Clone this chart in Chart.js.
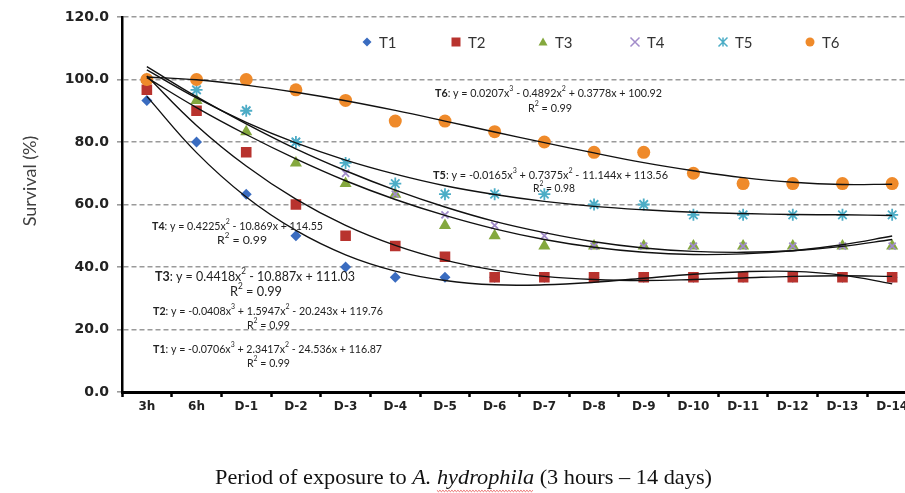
<!DOCTYPE html>
<html>
<head>
<meta charset="utf-8">
<script src="https://cdn.jsdelivr.net/npm/chart.js@4.4.0/dist/chart.umd.min.js"></script>
<style>
  html, body { margin: 0; padding: 0; background: #fff; overflow: hidden; }
  #chart { display: block; }
</style>
</head>
<body>
<canvas id="chart" width="930" height="493"></canvas>
<script>
// -> Daten
const categories = ['3h', '6h', 'D-1', 'D-2', 'D-3', 'D-4', 'D-5', 'D-6', 'D-7', 'D-8', 'D-9', 'D-10', 'D-11', 'D-12', 'D-13', 'D-14'];
const seriesNames = ['T1', 'T2', 'T3', 'T4', 'T5', 'T6'];

const t1 = [93.3, 80, 63.3, 50, 40, 36.7, 36.7, 36.7, 36.7, 36.7, 36.7, 36.7, 36.7, 36.7, 36.7, 36.7];
const t2 = [96.7, 90, 76.7, 60, 50, 46.7, 43.3, 36.7, 36.7, 36.7, 36.7, 36.7, 36.7, 36.7, 36.7, 36.7];
const t3 = [100, 93.3, 83.3, 73.3, 66.7, 63.3, 53.3, 50, 46.7, 46.7, 46.7, 46.7, 46.7, 46.7, 46.7, 46.7];
const t4 = [100, 96.7, 90, 80, 70, 63.3, 56.7, 53.3, 50, 46.7, 46.7, 46.7, 46.7, 46.7, 46.7, 46.7];
const t5 = [100, 96.7, 90, 80, 73.3, 66.7, 63.3, 63.3, 63.3, 60, 60, 56.7, 56.7, 56.7, 56.7, 56.7];
const t6 = [100, 100, 100, 96.7, 93.3, 86.7, 86.7, 83.3, 80, 76.7, 76.7, 70, 66.7, 66.7, 66.7, 66.7];

// Trendlinien (Werte der angegebenen Gleichungen pro Kategorie)
const fit1 = [94.6, 76.6, 62.4, 51.7, 43.9, 38.7, 35.7, 34.3, 34.3, 35.1, 36.4, 37.7, 38.5, 38.6, 37.4, 34.6];
const fit2 = [101.1, 85.3, 72.3, 61.7, 53.3, 46.9, 42.2, 39.0, 37.0, 36.0, 35.7, 36.0, 36.5, 37.0, 37.2, 37.0];
const fit3 = [100.6, 91.0, 82.4, 74.6, 67.6, 61.6, 56.5, 52.2, 48.8, 46.3, 44.7, 44.0, 44.2, 45.2, 47.1, 49.9];
const fit4 = [104.1, 94.5, 85.8, 77.8, 70.8, 64.6, 59.2, 54.6, 51.0, 48.1, 46.1, 45.0, 44.7, 45.2, 46.6, 48.8];
const fit5 = [103.1, 94.1, 86.3, 79.7, 74.2, 69.7, 66.0, 63.2, 61.0, 59.4, 58.3, 57.5, 57.1, 56.8, 56.7, 56.5];
const fit6 = [100.8, 99.9, 98.2, 95.9, 93.2, 90.1, 86.7, 83.2, 79.8, 76.5, 73.4, 70.8, 68.6, 67.1, 66.4, 66.5];

const yTicks = [0, 20, 40, 60, 80, 100, 120];

// -> Stil
const colors = ['#3a6cc0', '#b8332e', '#84a83e', '#a28cca', '#4cadc6', '#ef8a2a'];
const styles = ['rectRot', 'rect', 'triangle', 'crossRot', 'star', 'circle'];
const radii = [5.5, 7.5, 7, 5, 6, 6.5];
const allData = [t1, t2, t3, t4, t5, t6];
const allFits = [fit1, fit2, fit3, fit4, fit5, fit6];

const datasets = [];
allFits.forEach((f, i) => {
  datasets.push({
    label: 'fit ' + seriesNames[i],
    data: f,
    borderColor: '#111',
    borderWidth: 1.4,
    pointRadius: 0,
    tension: 0.4,
    fill: false,
    order: 0
  });
});
allData.forEach((d, i) => {
  const lineStyle = styles[i] === 'crossRot' || styles[i] === 'star';
  datasets.push({
    label: seriesNames[i],
    data: d,
    showLine: false,
    pointStyle: styles[i],
    pointRadius: radii[i],
    pointBackgroundColor: colors[i],
    pointBorderColor: colors[i],
    pointBorderWidth: lineStyle ? 1.8 : 0,
    order: 6 - i
  });
});

// -> Gleichungen
const equations = [
  { parts: [['T6', 'b'], [': y = 0.0207x'], ['3', 's'], [' - 0.4892x'], ['2', 's'], [' + 0.3778x + 100.92']], x: 435, y: 93, w: 227, size: 11 },
  { parts: [['R'], ['2', 's'], [' = 0.99']], x: 528, y: 108, w: 44, size: 11 },
  { parts: [['T5', 'b'], [': y = -0.0165x'], ['3', 's'], [' + 0.7375x'], ['2', 's'], [' - 11.144x + 113.56']], x: 433, y: 175, w: 235, size: 11 },
  { parts: [['R'], ['2', 's'], [' = 0.98']], x: 533, y: 188, w: 42, size: 11 },
  { parts: [['T4', 'b'], [': y = 0.4225x'], ['2', 's'], [' - 10.869x + 114.55']], x: 152, y: 226, w: 171, size: 11 },
  { parts: [['R'], ['2', 's'], [' = 0.99']], x: 217, y: 240, w: 50, size: 11 },
  { parts: [['T3', 'b'], [': y = 0.4418x'], ['2', 's'], [' - 10.887x + 111.03']], x: 155, y: 276, w: 200, size: 14 },
  { parts: [['R'], ['2', 's'], [' = 0.99']], x: 230, y: 291, w: 52, size: 14 },
  { parts: [['T2', 'b'], [': y = -0.0408x'], ['3', 's'], [' + 1.5947x'], ['2', 's'], [' - 20.243x + 119.76']], x: 153, y: 311, w: 230, size: 11 },
  { parts: [['R'], ['2', 's'], [' = 0.99']], x: 247, y: 325, w: 43, size: 11 },
  { parts: [['T1', 'b'], [': y = -0.0706x'], ['3', 's'], [' + 2.3417x'], ['2', 's'], [' - 24.536x + 116.87']], x: 153, y: 349, w: 229, size: 11 },
  { parts: [['R'], ['2', 's'], [' = 0.99']], x: 247, y: 363, w: 43, size: 11 }
];

const legendX = [367, 456, 543, 635, 723, 810];

function fontFor(style, size, family) {
  let f = '';
  if (style === 'b') f += 'bold ';
  if (style === 'i') f += 'italic ';
  if (style === 's') size = size * 0.65;
  return f + size + 'px ' + family;
}

// Text mit Teilen zeichnen, horizontal auf Zielbreite skaliert
function drawRich(ctx, parts, x, y, size, family, targetW, color) {
  let total = 0;
  const widths = parts.map(p => {
    ctx.font = fontFor(p[1], size, family);
    const w = ctx.measureText(p[0]).width;
    total += w;
    return w;
  });
  const sx = targetW ? targetW / total : 1;
  const pos = [];
  ctx.save();
  ctx.translate(x, y);
  ctx.scale(sx, 1);
  ctx.fillStyle = color;
  ctx.textBaseline = 'middle';
  ctx.textAlign = 'left';
  let cx = 0;
  parts.forEach((p, i) => {
    ctx.font = fontFor(p[1], size, family);
    const dy = p[1] === 's' ? -size * 0.35 : 0;
    ctx.fillText(p[0], cx, dy);
    pos.push([x + cx * sx, x + (cx + widths[i]) * sx]);
    cx += widths[i];
  });
  ctx.restore();
  return pos;
}

function drawMarker(ctx, style, x, y, r, color) {
  ctx.save();
  ctx.fillStyle = color;
  ctx.strokeStyle = color;
  ctx.lineWidth = 1.5;
  ctx.beginPath();
  if (style === 'rectRot') {
    ctx.moveTo(x, y - r); ctx.lineTo(x + r, y); ctx.lineTo(x, y + r); ctx.lineTo(x - r, y); ctx.closePath(); ctx.fill();
  } else if (style === 'rect') {
    ctx.rect(x - r, y - r, 2 * r, 2 * r); ctx.fill();
  } else if (style === 'triangle') {
    ctx.moveTo(x, y - r); ctx.lineTo(x + r, y + r * 0.8); ctx.lineTo(x - r, y + r * 0.8); ctx.closePath(); ctx.fill();
  } else if (style === 'crossRot') {
    ctx.moveTo(x - r, y - r); ctx.lineTo(x + r, y + r); ctx.moveTo(x + r, y - r); ctx.lineTo(x - r, y + r); ctx.stroke();
  } else if (style === 'star') {
    ctx.moveTo(x - r, y - r); ctx.lineTo(x + r, y + r); ctx.moveTo(x + r, y - r); ctx.lineTo(x - r, y + r);
    ctx.moveTo(x, y - r); ctx.lineTo(x, y + r); ctx.stroke();
  } else {
    ctx.arc(x, y, r, 0, Math.PI * 2); ctx.fill();
  }
  ctx.restore();
}

// -> Plugin für Legende, Titel und Gleichungen
const extras = {
  id: 'extras',
  afterDraw(chart) {
    const ctx = chart.ctx;

    // Legende
    seriesNames.forEach((name, i) => {
      const mx = legendX[i];
      drawMarker(ctx, styles[i], mx, 42, 4.5, colors[i]);
      ctx.save();
      ctx.font = '15px Lato';
      ctx.fillStyle = '#333';
      ctx.textBaseline = 'middle';
      ctx.fillText(name, mx + 12, 43);
      ctx.restore();
    });

    // Gleichungen
    equations.forEach(e => drawRich(ctx, e.parts, e.x, e.y, e.size, 'Lato', e.w, '#222'));

    // Y-Titel
    ctx.save();
    ctx.translate(30, 181);
    ctx.rotate(-Math.PI / 2);
    ctx.font = '18px Lato';
    ctx.fillStyle = '#404040';
    ctx.textAlign = 'center';
    ctx.textBaseline = 'middle';
    ctx.fillText('Survival (%)', 0, 0);
    ctx.restore();

    // X-Titel
    const pos = drawRich(ctx, [
      ['Period of exposure to '], ['A. ', 'i'], ['hydrophila', 'i'], [' (3 hours \u2013 14 days)']
    ], 215, 478, 21, '"Liberation Serif"', 497, '#111');

    // rote Wellenlinie unter "hydrophila"
    const x0 = pos[2][0], x1 = pos[2][1];
    ctx.save();
    ctx.strokeStyle = '#e23a3a';
    ctx.lineWidth = 0.8;
    ctx.beginPath();
    for (let x = x0, k = 0; x <= x1; x += 1.5, k++) {
      const y = 491 + (k % 2 === 0 ? -0.7 : 0.7);
      if (k === 0) ctx.moveTo(x, y); else ctx.lineTo(x, y);
    }
    ctx.stroke();
    ctx.restore();
  }
};

const canvas = document.querySelector('#chart');
const chart = new Chart(canvas, {
  type: 'line',
  data: { labels: categories, datasets: datasets },
  options: {
    responsive: false,
    animation: false,
    layout: { padding: { top: 17, right: 13, left: 0, bottom: 0 } },
    plugins: {
      legend: { display: false },
      tooltip: { enabled: false }
    },
    scales: {
      x: {
        offset: true,
        afterFit(scale) { scale.height = 101; },
        grid: {
          offset: true,
          drawOnChartArea: false,
          drawTicks: true,
          tickLength: 5,
          tickColor: '#000',
          tickWidth: 2.5
        },
        border: { color: '#000', width: 3 },
        ticks: {
          color: '#222',
          padding: 3,
          font: { family: 'DejaVu Sans', size: 12, weight: 'bold' },
          maxRotation: 0,
          autoSkip: false
        }
      },
      y: {
        min: 0,
        max: 120,
        afterFit(scale) { scale.width = 122; },
        afterBuildTicks(scale) { scale.ticks = yTicks.map(v => ({ value: v })); },
        grid: {
          color: (c) => c.tick && c.tick.value === 0 ? 'rgba(0,0,0,0)' : '#9a9a9a',
          lineWidth: 1.6,
          drawTicks: true,
          tickLength: 5,
          tickColor: '#9a9a9a',
          tickBorderDash: [5, 3]
        },
        border: { color: '#000', width: 2.5, dash: [5, 3] },
        ticks: {
          color: '#222',
          padding: 8,
          font: { family: 'DejaVu Sans', size: 14, weight: 'bold' },
          callback: (v) => Number(v).toFixed(1)
        }
      }
    }
  },
  plugins: [extras]
});
</script>
</body>
</html>
